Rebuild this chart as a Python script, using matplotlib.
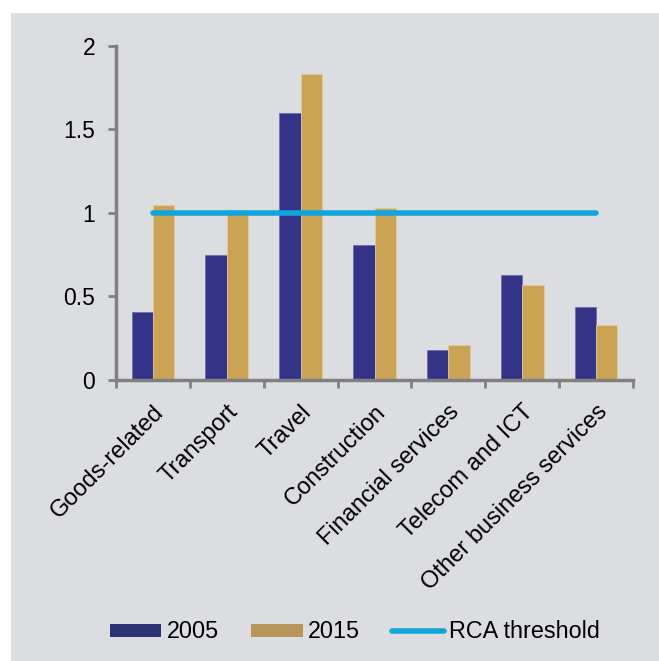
import matplotlib
matplotlib.use("Agg")
import matplotlib.pyplot as plt
import matplotlib.transforms as mtransforms
import numpy as np
from matplotlib.patches import Rectangle
from matplotlib.lines import Line2D

# RCA index by service category
categories = ["Goods-related", "Transport", "Travel", "Construction",
              "Financial services", "Telecom and ICT", "Other business services"]
rca_2005 = [0.41, 0.75, 1.60, 0.81, 0.18, 0.63, 0.44]
rca_2015 = [1.05, 1.02, 1.83, 1.03, 0.21, 0.57, 0.33]
threshold = [1.0] * len(categories)

plt.rcParams["font.family"] = ["Liberation Sans", "DejaVu Sans"]

navy = "#333387"
tan = "#CBA355"
blue = "#12A5DC"
spine = "#808080"

fig = plt.figure(figsize=(6.59, 6.61), dpi=100)
fig.patch.set_facecolor("white")
# grey panel behind the chart
fig.patches.append(Rectangle((11 / 659, 0), 648 / 659, 648 / 661,
                             transform=fig.transFigure, facecolor="#DCDDE0",
                             edgecolor="none", zorder=-10))

ax = fig.add_axes([116 / 659, 1 - 380 / 661, 517 / 659, 334 / 661])
ax.set_facecolor("none")

x = np.arange(len(categories))
w = 0.29
ax.bar(x - w / 2, rca_2005, w, color=navy, edgecolor="#6E6EA8", linewidth=0.6, zorder=2)
ax.bar(x + w / 2, rca_2015, w, color=tan, edgecolor="#E2CC9A", linewidth=0.6, zorder=2)
ax.plot(x, threshold, color=blue, linewidth=4, solid_capstyle="round", zorder=3)

ax.set_xlim(-0.5, len(categories) - 0.5)
ax.set_ylim(0, 2)
ax.set_yticks([0, 0.5, 1, 1.5, 2])
ax.set_yticklabels(["0", "0.5", "1", "1.5", "2"])

ax.set_xticks(np.arange(-0.5, len(categories)), minor=False)
ax.set_xticklabels([])
ax.set_xticks(x, minor=True)
ax.set_xticklabels(categories, minor=True, rotation=45, ha="right", va="top",
                   rotation_mode="anchor", fontsize=17)
shift = mtransforms.ScaledTranslation(5 / 100, 0, fig.dpi_scale_trans)
for lbl in ax.get_xticklabels(minor=True):
    lbl.set_transform(lbl.get_transform() + shift)
ax.tick_params(axis="x", which="minor", length=0, pad=15)
ax.tick_params(axis="x", which="major", length=6, width=2, color=spine, direction="out")
ax.tick_params(axis="y", length=6, width=2, color=spine, labelsize=16.5, pad=9)

for s in ["top", "right"]:
    ax.spines[s].set_visible(False)
for s in ["left", "bottom"]:
    ax.spines[s].set_color(spine)
    ax.spines[s].set_linewidth(2.5)
ax.spines["bottom"].set_zorder(4)

handles = [
    Rectangle((0, 0), 1, 1, facecolor="#2B3373", edgecolor="none"),
    Rectangle((0, 0), 1, 1, facecolor="#B8955A", edgecolor="none"),
    Line2D([], [], color=blue, linewidth=4, solid_capstyle="round"),
]
fig.legend(handles, ["2005", "2015", "RCA threshold"], loc="center left",
           bbox_to_anchor=(110 / 659, 29 / 661), ncol=3, frameon=False,
           fontsize=16.8, handlelength=2.2, handleheight=0.5, handletextpad=0.22,
           columnspacing=1.4, borderpad=0, borderaxespad=0)

fig.savefig("out.png", dpi=100)
